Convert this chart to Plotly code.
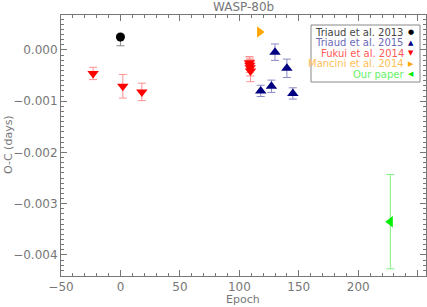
import plotly.graph_objects as go

# Data
triaud13_epoch = [0]
triaud13_oc = [0.00025]
triaud13_err_plus = [0.00005]
triaud13_err_minus = [0.00017]

triaud15_epoch = [118, 127, 130, 140, 145]
triaud15_oc = [-0.00080, -0.00071, -0.000045, -0.00036, -0.00085]
triaud15_err = [0.00011, 0.00012, 0.00016, 0.00018, 0.00011]

fukui_epoch = [-23, 2, 18, 108.5, 108.8, 109.1, 109.4]
fukui_oc = [-0.00046, -0.00071, -0.00082, -0.00025, -0.00030, -0.00035, -0.00041]
fukui_err = [0.00012, 0.00023, 0.00017, 0.00012, 0.00014, 0.00016, 0.00021]

mancini_epoch = [117]
mancini_oc = [0.00035]

ours_epoch = [227]
ours_oc = [-0.00335]
ours_err = [0.00092]

legend_labels = ["Triaud et al. 2013", "Triaud et al. 2015", "Fukui et al. 2014",
                 "Mancini et al. 2014", "Our paper"]
legend_text_colors = ["#444444", "#6a6ab8", "#ff5a5a", "#ffbe55", "#66f266"]
legend_symbols = ["●", "▲", "▼", "▶", "◀"]
legend_symbol_colors = ["black", "#000080", "#ff0000", "#ffa500", "#00ee00"]

fig = go.Figure()

fig.add_trace(go.Scatter(
    x=triaud13_epoch, y=triaud13_oc, mode="markers",
    marker=dict(symbol="circle", size=9, color="black"),
    error_y=dict(type="data", array=triaud13_err_plus, arrayminus=triaud13_err_minus,
                 color="#888888", thickness=1, width=4),
    showlegend=False))

fig.add_trace(go.Scatter(
    x=triaud15_epoch, y=triaud15_oc, mode="markers",
    marker=dict(symbol="triangle-up", size=10, color="#000080"),
    error_y=dict(type="data", array=triaud15_err, color="#8a8ac8", thickness=1, width=4),
    showlegend=False))

fig.add_trace(go.Scatter(
    x=fukui_epoch, y=fukui_oc, mode="markers",
    marker=dict(symbol="triangle-down", size=10, color="#ff0000"),
    error_y=dict(type="data", array=fukui_err, color="#ff9090", thickness=1, width=4),
    showlegend=False))

fig.add_trace(go.Scatter(
    x=mancini_epoch, y=mancini_oc, mode="markers",
    marker=dict(symbol="triangle-right", size=10, color="#ffa500"),
    showlegend=False))

fig.add_trace(go.Scatter(
    x=ours_epoch, y=ours_oc, mode="markers",
    marker=dict(symbol="triangle-left", size=10, color="#00ee00"),
    error_y=dict(type="data", array=ours_err, color="#80f080", thickness=1, width=4),
    showlegend=False))

font_family = "DejaVu Sans"
gray = "#777777"

L, R, T, B = 61, 426, 15, 276
PW, PH = R - L, B - T


def px_x(p):
    return (p - L) / PW


def px_y(p):
    return (B - p) / PH


# Legend box and entries (text right-aligned, symbol on the right)
fig.add_shape(type="rect", xref="paper", yref="paper",
              x0=px_x(311), x1=px_x(420), y0=px_y(82), y1=px_y(25),
              line=dict(color="#888888", width=1), fillcolor="white")
for i, (lab, tc, sym, sc) in enumerate(zip(legend_labels, legend_text_colors,
                                            legend_symbols, legend_symbol_colors)):
    ypix = 32 + i * 10.5
    fig.add_annotation(xref="paper", yref="paper", x=px_x(405), y=px_y(ypix),
                       text=lab, showarrow=False, xanchor="right", yanchor="middle",
                       borderpad=0,
                       font=dict(family=font_family, size=10, color=tc))
    fig.add_annotation(xref="paper", yref="paper", x=px_x(411), y=px_y(ypix),
                       text=sym, showarrow=False, xanchor="center", yanchor="middle",
                       borderpad=0,
                       font=dict(family=font_family, size=7, color=sc))

# Axis titles and plot title
fig.add_annotation(xref="paper", yref="paper", x=px_x(243), y=px_y(300),
                   text="Epoch", showarrow=False, xanchor="center", yanchor="middle",
                   font=dict(family=font_family, size=11, color=gray))
fig.add_annotation(xref="paper", yref="paper", x=px_x(8), y=px_y(145),
                   text="O-C (days)", showarrow=False, xanchor="center", yanchor="middle",
                   textangle=-90, font=dict(family=font_family, size=11, color=gray))
fig.add_annotation(xref="paper", yref="paper", x=px_x(243), y=px_y(7),
                   text="WASP-80b", showarrow=False, xanchor="center", yanchor="middle",
                   font=dict(family=font_family, size=12, color=gray))

axis_common = dict(
    showgrid=False, zeroline=False, showline=True, linecolor=gray, linewidth=1,
    mirror="ticks", ticks="inside", tickcolor=gray, ticklen=6, tickwidth=1,
    tickfont=dict(family=font_family, size=12, color=gray), automargin=False,
)

fig.update_xaxes(range=[-50, 257], dtick=50, tick0=0,
                 minor=dict(dtick=10, ticks="inside", ticklen=3, tickcolor=gray),
                 **axis_common)
fig.update_yaxes(range=[-0.00441, 0.00068], dtick=0.001, tick0=0, tickformat=".3f",
                 minor=dict(dtick=0.0001, ticks="inside", ticklen=3, tickcolor=gray),
                 **axis_common)

fig.update_layout(
    width=427, height=307,
    margin=dict(l=L, r=427 - R, t=T, b=307 - B, autoexpand=False),
    paper_bgcolor="white", plot_bgcolor="white",
    showlegend=False,
)

fig.write_html("out.html", config={"displayModeBar": False},
               post_script="document.body.style.margin='0px';document.body.style.overflow='hidden';")
